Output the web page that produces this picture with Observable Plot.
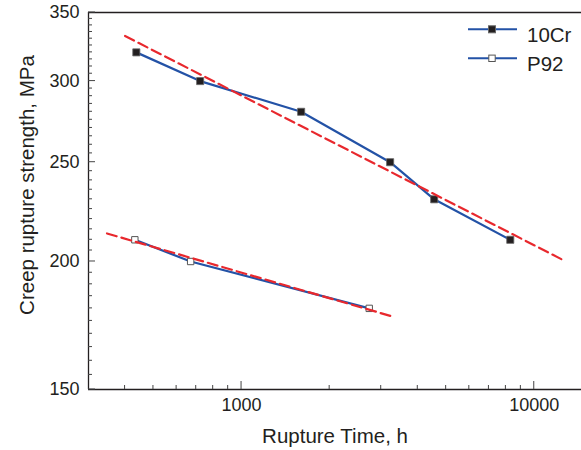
<!DOCTYPE html>
<html><head><meta charset="utf-8">
<script src="https://cdn.jsdelivr.net/npm/d3@7"></script>
<script src="https://cdn.jsdelivr.net/npm/@observablehq/plot@0.6"></script>
<style>body{margin:0;background:#fff} #chart svg{display:block}</style>
</head><body><div id="chart"></div>
<script>
// ---- data ----
const seriesNames = ["10Cr", "P92"];
const time10Cr = [437, 722, 1598, 3218, 4551, 8280];
const stress10Cr = [320, 300, 280, 250, 230, 210];
const timeP92 = [432, 670, 2730];
const stressP92 = [210, 200, 180];
const fitTime10Cr = [400, 12400];
const fitStress10Cr = [332, 201];
const fitTimeP92 = [347, 3220];
const fitStressP92 = [213, 177];
const xMajorTicks = [1000, 10000];
const xMinorTicks = [400, 500, 600, 700, 800, 900, 2000, 3000, 4000, 5000, 6000, 7000, 8000, 9000];
const yMajorTicks = [150, 200, 250, 300, 350];
const yMinorTicks = d3.range(155, 350, 5).filter(v => v % 50 !== 0);
const xLabel = "Rupture Time, h";
const yLabel = "Creep rupture strength, MPa";

const BLUE = "#2352a6", RED = "#e8282d", INK = "#231f20";
const FONT = "Liberation Sans, Arial, Helvetica, sans-serif";
const W = 581, H = 450, ML = 88, MR = 0, MT = 12, MB = 61;

const toRows = (name, ts, ss) => ts.map((t, i) => ({series: name, time: t, stress: ss[i]}));
const d10 = toRows("10Cr", time10Cr, stress10Cr);
const dP = toRows("P92", timeP92, stressP92);
const f10 = toRows("10Cr", fitTime10Cr, fitStress10Cr);
const fP = toRows("P92", fitTimeP92, fitStressP92);

const chart = Plot.plot({
  width: W, height: H,
  marginLeft: ML, marginRight: MR, marginTop: MT, marginBottom: MB,
  style: {fontFamily: FONT, color: INK, background: "white"},
  x: {type: "log", domain: [300, 14500]},
  y: {type: "log", domain: [150, 350]},
  marks: [
    // frame
    Plot.ruleX([300], {stroke: INK, strokeWidth: 1.3}),
    Plot.ruleY([150, 350], {stroke: INK, strokeWidth: 1.3}),
    // tick labels
    Plot.axisX(xMajorTicks, {tickSize: 0, tickPadding: 9, fontSize: 18, tickFormat: d3.format("d"), label: null, fill: INK}),
    Plot.axisY(yMajorTicks, {tickSize: 0, tickPadding: 9, fontSize: 18, tickFormat: d3.format("d"), label: null, fill: INK}),
    // axis titles
    Plot.text([xLabel], {frameAnchor: "bottom", dy: 53, lineAnchor: "bottom", textAnchor: "middle", text: d => d, fontSize: 20.5, fill: INK}),
    Plot.text([yLabel], {frameAnchor: "left", dx: -55, dy: -16, rotate: -90, lineAnchor: "bottom", textAnchor: "middle", text: d => d, fontSize: 20.5, fill: INK}),
    // data lines
    Plot.line(d10, {x: "time", y: "stress", stroke: BLUE, strokeWidth: 2.2}),
    Plot.line(dP, {x: "time", y: "stress", stroke: BLUE, strokeWidth: 2.2}),
    Plot.dot(d10, {x: "time", y: "stress", symbol: "square", r: 4, fill: INK, stroke: "#666", strokeWidth: 0.8}),
    Plot.dot(dP, {x: "time", y: "stress", symbol: "square", r: 3.6, fill: "white", stroke: "#555", strokeWidth: 1}),
    // fits
    Plot.line(f10, {x: "time", y: "stress", stroke: RED, strokeWidth: 2.2, strokeDasharray: "10,5"}),
    Plot.line(fP, {x: "time", y: "stress", stroke: RED, strokeWidth: 2.2, strokeDasharray: "10,5"})
  ]
});

const svg = d3.select(chart);
const sx = chart.scale("x"), sy = chart.scale("y");
const x0 = sx.apply(300), y0 = sy.apply(150);

// inward ticks, placed through the plot's own scales
const tg = svg.append("g").attr("stroke", "#444").attr("stroke-width", 1);
xMinorTicks.forEach(v => { const x = sx.apply(v); tg.append("line").attr("x1", x).attr("x2", x).attr("y1", y0).attr("y2", y0 - 4); });
xMajorTicks.forEach(v => { const x = sx.apply(v); tg.append("line").attr("x1", x).attr("x2", x).attr("y1", y0).attr("y2", y0 - 8); });
yMinorTicks.forEach(v => { const y = sy.apply(v); tg.append("line").attr("x1", x0).attr("x2", x0 + 4).attr("y1", y).attr("y2", y); });
yMajorTicks.forEach(v => { const y = sy.apply(v); tg.append("line").attr("x1", x0).attr("x2", x0 + 7).attr("y1", y).attr("y2", y); });

// legend inside the plot, top-right
const leg = svg.append("g").attr("font-family", FONT);
const legendFill = ["#231f20", "white"];
const legendStroke = ["#666", "#555"];
seriesNames.forEach((name, i) => {
  const y = 29.3 + 29 * i;
  leg.append("line").attr("x1", 468).attr("x2", 517).attr("y1", y).attr("y2", y)
    .attr("stroke", BLUE).attr("stroke-width", 2);
  const s = i === 0 ? 7 : 6.4;
  leg.append("rect").attr("x", 492 - s / 2).attr("y", y - s / 2).attr("width", s).attr("height", s)
    .attr("fill", legendFill[i]).attr("stroke", legendStroke[i]).attr("stroke-width", 1);
  leg.append("text").attr("x", 527).attr("y", y + 12.4).attr("font-size", 20.5)
    .attr("text-anchor", "start").attr("fill", INK).text(name);
});
document.getElementById("chart").appendChild(chart);
</script>
</body></html>
